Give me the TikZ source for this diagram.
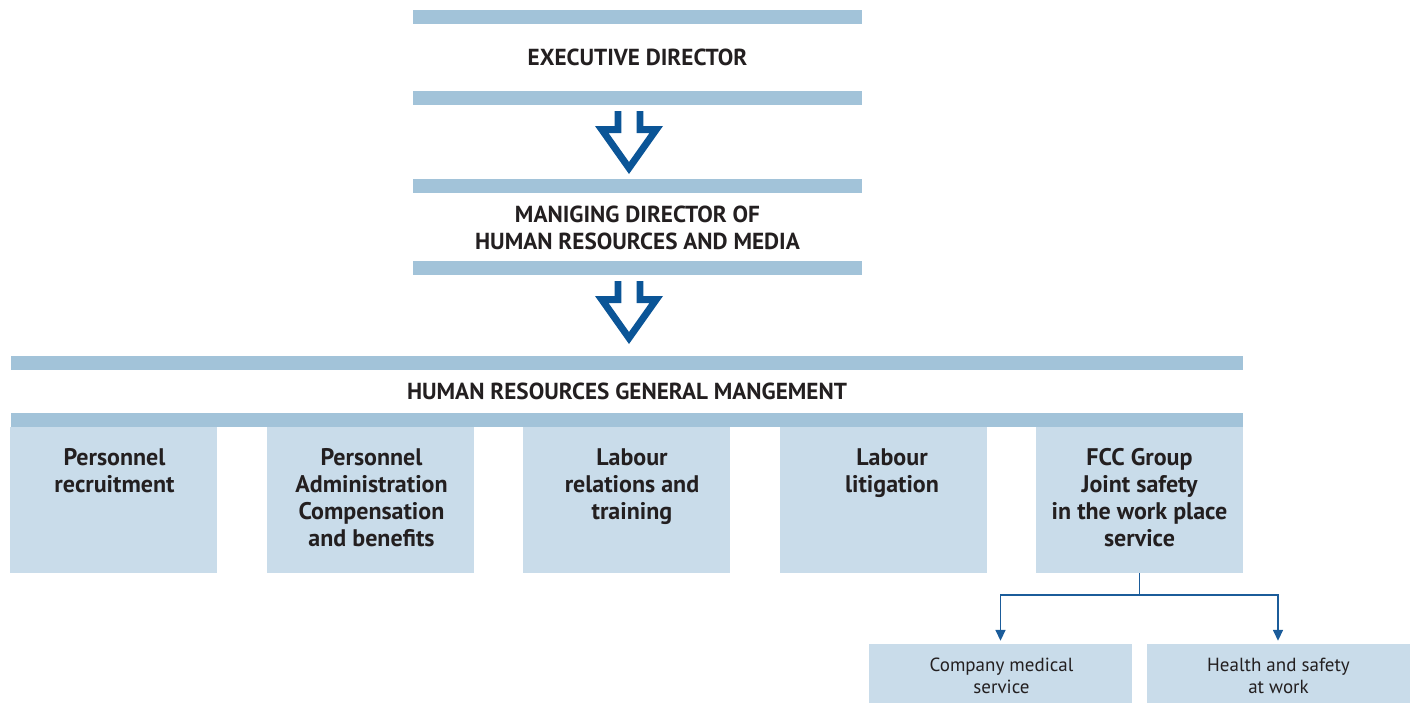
\documentclass[tikz,border=0pt]{standalone}
\usepackage{fontspec}
\setmainfont{PT Sans}
\usetikzlibrary{arrows.meta}
\definecolor{barblue}{HTML}{A2C3D9}
\definecolor{boxblue}{HTML}{C9DCEA}
\definecolor{arrblue}{HTML}{0B5597}
\definecolor{linkblue}{HTML}{1B5C9A}
\definecolor{txt}{HTML}{231F20}
\tikzset{
  head/.style={minimum width=449pt, inner sep=0pt, align=center, text=txt,
    font=\bfseries\fontsize{23.2}{27}\selectfont},
  unit/.style={fill=boxblue, minimum width=207pt, minimum height=146pt, inner sep=0pt},
  unitlabel/.style={anchor=north, align=center, text=txt, inner sep=0pt,
    font=\bfseries\fontsize{24}{27}\selectfont},
  sub/.style={fill=boxblue, minimum width=263pt, minimum height=59pt, inner sep=0pt},
  sublabel/.style={align=center, text=txt, inner sep=0pt, font=\fontsize{19}{22}\selectfont},
  conn/.style={draw=linkblue, line width=1.6pt, -{Triangle[width=10pt,length=11pt]}, shorten >=3pt},
  pics/openarr/.style={code={
    \fill[arrblue] (-14.3,0) -- (-14.3,15) -- (-34,15) -- (0,63) -- (34,15) -- (14.3,15)
      -- (14.3,0) -- (7.7,0) -- (7.7,22) -- (20.5,22) -- (0,51) -- (-20.5,22)
      -- (-7.7,22) -- (-7.7,0) -- cycle;}}
}
\begin{document}
\begin{tikzpicture}[x=1pt,y=-1pt]
\useasboundingbox (0,0) rectangle (1411,704);
% heads
\node[head, minimum height=95pt] (exec) at (637.5,57) {EXECUTIVE DIRECTOR};
\fill[barblue] (413,10) rectangle (862,24);
\fill[barblue] (413,91) rectangle (862,105);
\node[head, minimum height=96pt] (mdir) at (637.5,227.5) {MANIGING DIRECTOR OF\\HUMAN RESOURCES AND MEDIA};
\fill[barblue] (413,179) rectangle (862,193);
\fill[barblue] (413,261) rectangle (862,275);
\node[head, minimum width=1232pt, minimum height=71pt] (hrgm) at (627,391.5) {HUMAN RESOURCES GENERAL MANGEMENT};
\fill[barblue] (11,356) rectangle (1243,370);
\fill[barblue] (11,413) rectangle (1243,427);
% arrows
\pic (a1) at (629,111) {openarr};
\pic (a2) at (629,281) {openarr};
% units
\node[unit] (u1) at (113.5,500) {};
\node[unit] (u2) at (370.5,500) {};
\node[unit] (u3) at (626.5,500) {};
\node[unit] (u4) at (883.5,500) {};
\node[unit] (u5) at (1139.5,500) {};
\node[unitlabel] (t1) at (114.5,448) {Personnel\\recruitment};
\node[unitlabel] (t2) at (371.5,448) {Personnel\\Administration\\Compensation\\and benefits};
\node[unitlabel] (t3) at (632,448) {Labour\\relations and\\training};
\node[unitlabel] (t4) at (892,448) {Labour\\litigation};
\node[unitlabel] (t5) at (1139.5,448) {FCC Group\\Joint safety\\in the work place\\service};
% sub units
\node[sub] (med) at (1000.5,673.5) {};
\node[sub] (hs) at (1278,673.5) {};
\node[sublabel] (medt) at (1001.5,676) {Company medical\\service};
\node[sublabel] (hst) at (1278.5,676) {Health and safety\\at work};
\draw[conn] (u5.south) -- ++(0,22) -| (med.north);
\draw[conn] (u5.south) -- ++(0,22) -| (hs.north);
\end{tikzpicture}
\end{document}
